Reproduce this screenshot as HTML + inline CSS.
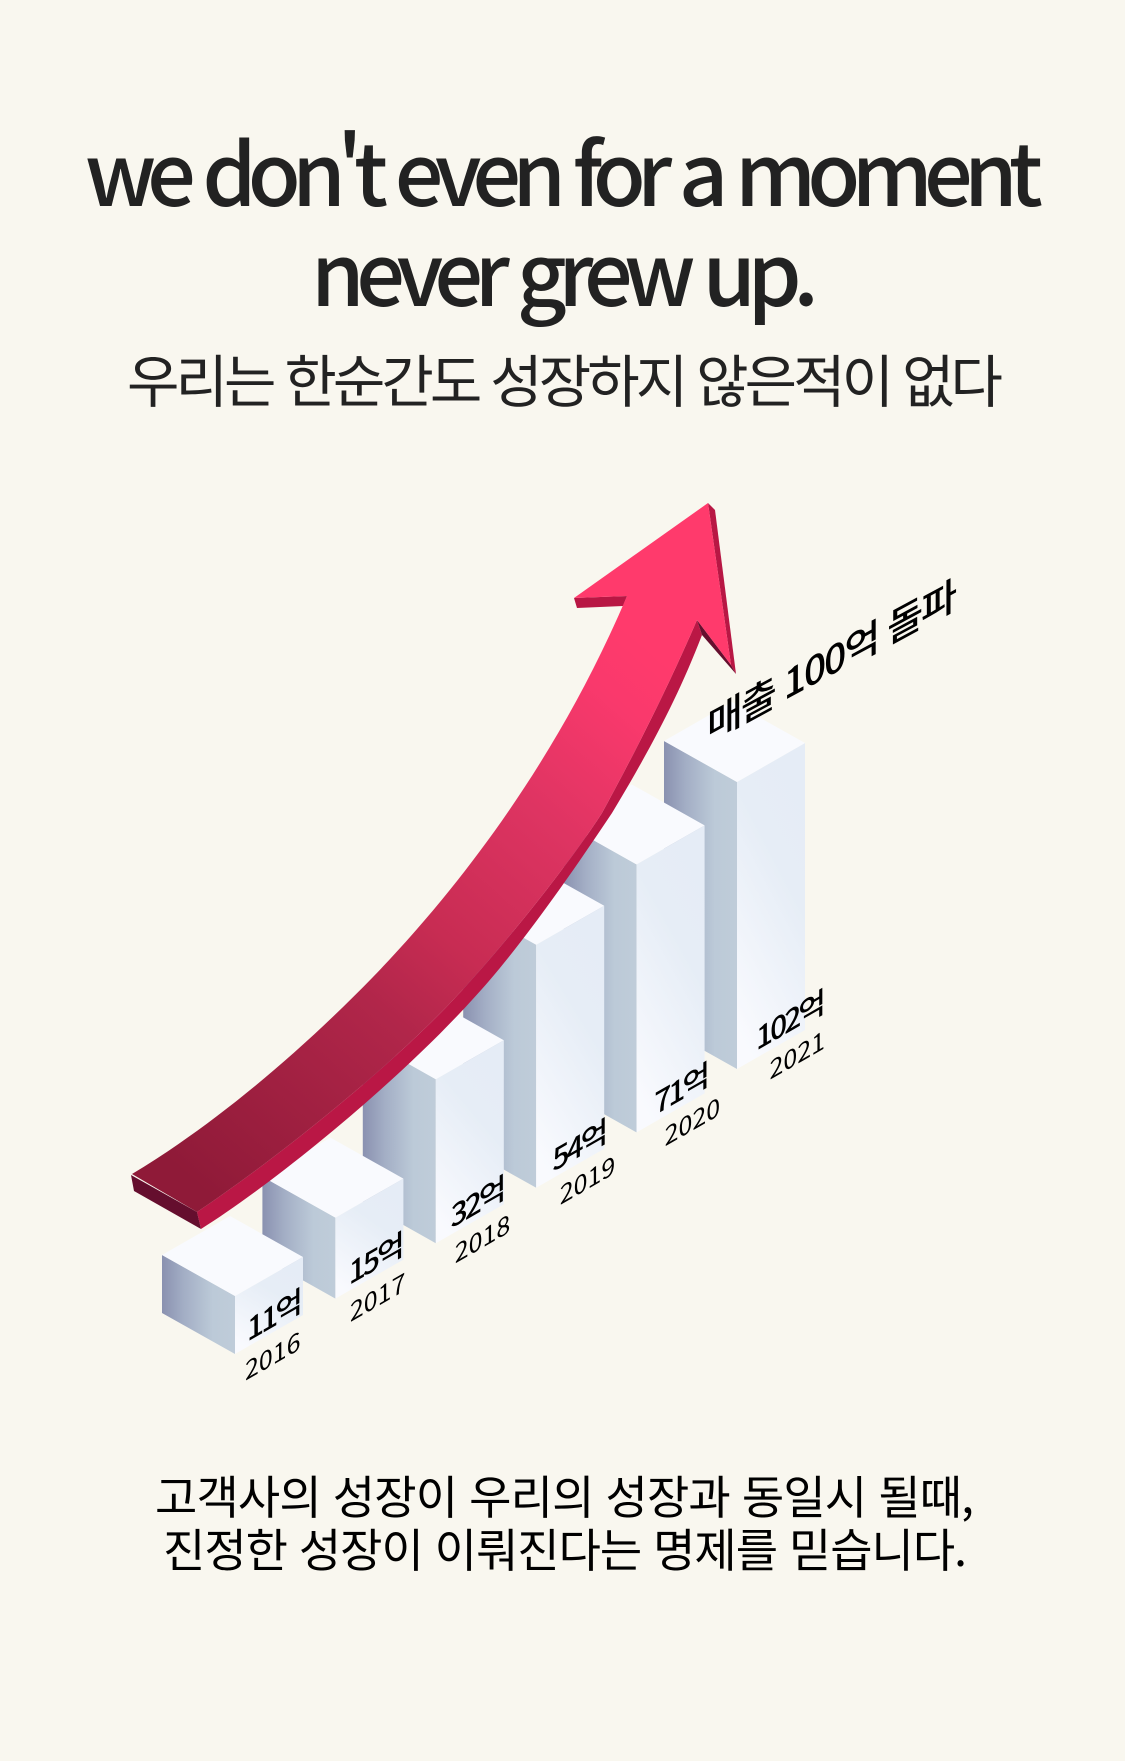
<!DOCTYPE html>
<html lang="ko">
<head>
<meta charset="utf-8">
<title>Growth chart</title>
<style>
  html, body { margin: 0; padding: 0; background: #f9f7ef; }
  #stage { display: block; width: 1125px; height: 1761px; }
  text { font-family: "Noto Sans CJK KR", "Liberation Sans", sans-serif; }
</style>
</head>
<body>
<svg id="stage" xmlns="http://www.w3.org/2000/svg" width="1125" height="1761" viewBox="0 0 1125 1761">
  <defs>
    <linearGradient id="leftFace" x1="0" y1="0" x2="1" y2="0">
      <stop offset="0" stop-color="#8a91b0"/>
      <stop offset="0.3" stop-color="#a3aec5"/>
      <stop offset="0.7" stop-color="#bccad8"/>
      <stop offset="1" stop-color="#bfccd9"/>
    </linearGradient>
    <linearGradient id="rightFace" x1="0.7" y1="0" x2="0.3" y2="1">
      <stop offset="0" stop-color="#e5ecf6"/>
      <stop offset="0.35" stop-color="#e6edf6"/>
      <stop offset="1" stop-color="#f9fafe"/>
    </linearGradient>
    <linearGradient id="arrowFace" gradientUnits="userSpaceOnUse" x1="640" y1="640" x2="180" y2="1170">
      <stop offset="0" stop-color="#ff3a6c"/>
      <stop offset="0.09" stop-color="#f9396c"/>
      <stop offset="0.28" stop-color="#de3462"/>
      <stop offset="0.5" stop-color="#c82c53"/>
      <stop offset="0.64" stop-color="#b1264a"/>
      <stop offset="1" stop-color="#8f1a38"/>
    </linearGradient>
  </defs>

  <rect x="0" y="0" width="1125" height="1761" fill="#f9f7ef"/>

  <text x="85" y="206" font-size="86" font-weight="500" fill="#222" textLength="958" lengthAdjust="spacing">we don't even for a moment</text>
  <text x="311" y="306" font-size="86" font-weight="500" fill="#222" textLength="508" lengthAdjust="spacing">never grew up.</text>
  <text x="127" y="402" font-size="57" font-weight="400" fill="#222" textLength="876" lengthAdjust="spacing">우리는 한순간도 성장하지 않은적이 없다</text>

  <g id="bars"></g>

  <g id="arrow">
    <path fill="#ba1745" d="M201,1229 C270,1186 395,1085 472,1000 C517,952 572,873 612,813 C648,753 677,700 702,635 L697,620 C666,692 632,758 602,813 C570,863 503,947 453,1000 C383,1074 269,1164 197,1212 Z"/>
    <path fill="#650e2e" d="M131,1175 L197,1212 L201,1229 L134,1191 Z"/>
    <path fill="#650e2e" d="M697,620 L731,665 L736,674 L702,635 Z"/>
    <path fill="#b81744" d="M708,503 L715,510 L736,674 L731,665 Z"/>
    <path fill="#b81744" d="M574,598 L627,596 L623,606 L577,608 Z"/>
    <path fill="url(#arrowFace)" d="M132,1174 C212,1126 295,1057 373,977 C458,889 557,761 627,596 L574,598 L708,503 L731,665 L697,620 C666,692 632,758 602,813 C570,863 503,947 453,1000 C383,1074 269,1164 197,1212 Z"/>
  </g>

  <g id="labels"></g>

  <text transform="matrix(1,-0.54,0,1,707,742)" x="0" y="0" font-size="39" font-weight="500" fill="#000" textLength="250" lengthAdjust="spacing">매출 100억 돌파</text>

  <text x="155" y="1514" font-size="46" font-weight="400" fill="#000" textLength="819" lengthAdjust="spacing">고객사의 성장이 우리의 성장과 동일시 될때,</text>
  <text x="163" y="1567" font-size="46" font-weight="400" fill="#000" textLength="804" lengthAdjust="spacing">진정한 성장이 이뤄진다는 명제를 믿습니다.</text>
</svg>

<script>
const years = ['2016', '2017', '2018', '2019', '2020', '2021'];
const revenue = [11, 15, 32, 54, 71, 102];
const valueSuffix = '억';

const SVG_NS = 'http://www.w3.org/2000/svg';

// The illustration uses a compressed (non-linear) height axis.
function heightAxis(v) {
  const knotValues = [0, 11, 15, 32, 54, 71, 102, 160];
  const knotHeights = [0, 58, 81, 164, 243, 268, 287, 320];
  if (v <= knotValues[0]) return knotHeights[0];
  for (let k = 1; k < knotValues.length; k++) {
    if (v <= knotValues[k]) {
      const t = (v - knotValues[k - 1]) / (knotValues[k] - knotValues[k - 1]);
      return knotHeights[k - 1] + t * (knotHeights[k] - knotHeights[k - 1]);
    }
  }
  return knotHeights[knotHeights.length - 1];
}
function frontX(i) { return 235 + 100.4 * i; }
function baseY(i) { return 1354 - 55.4 * i - (i === 5 ? 8 : 0); }

function poly(points, fill) {
  const el = document.createElementNS(SVG_NS, 'polygon');
  el.setAttribute('points', points.map(p => p[0].toFixed(1) + ',' + p[1].toFixed(1)).join(' '));
  el.setAttribute('fill', fill);
  return el;
}

const barsGroup = document.getElementById('bars');
for (let i = years.length - 1; i >= 0; i--) {
  const x = frontX(i), b = baseY(i), t = b - heightAxis(revenue[i]);
  const bar = document.createElementNS(SVG_NS, 'g');
  
  

  const left = poly([[x - 73, t - 41], [x, t], [x, b], [x - 73, b - 41]], 'url(#leftFace)');
  
  
  bar.appendChild(left);

  const right = poly([[x, t], [x + 68, t - 39], [x + 68, b - 39], [x, b]], 'url(#rightFace)');
  
  
  bar.appendChild(right);

  const top = poly([[x - 73, t - 41], [x - 5, t - 80], [x + 68, t - 39], [x, t]], '#f9fafe');
  
  
  bar.appendChild(top);

  barsGroup.appendChild(bar);
}

function skewedText(str, x, y, size, weight, spacing) {
  const el = document.createElementNS(SVG_NS, 'text');
  el.setAttribute('transform', 'matrix(1,-0.577,0,1,' + x.toFixed(1) + ',' + y.toFixed(1) + ')');
  el.setAttribute('font-size', size);
  el.setAttribute('font-weight', weight);
  el.setAttribute('letter-spacing', spacing);
  el.setAttribute('fill', '#000');
  el.textContent = str;
  return el;
}

const labelsGroup = document.getElementById('labels');
years.forEach((year, i) => {
  const valueText = skewedText(revenue[i] + valueSuffix, frontX(i) + 12 + 1.4 * i, baseY(i) - 12 - 1.2 * i, 30, 500, -3);
  
  
  labelsGroup.appendChild(valueText);

  const yearText = skewedText(year, frontX(i) + 10 + 4.5 * i, baseY(i) + 27 - 3.2 * i, 25, 400, 0);
  
  
  labelsGroup.appendChild(yearText);
});
</script>
</body>
</html>
